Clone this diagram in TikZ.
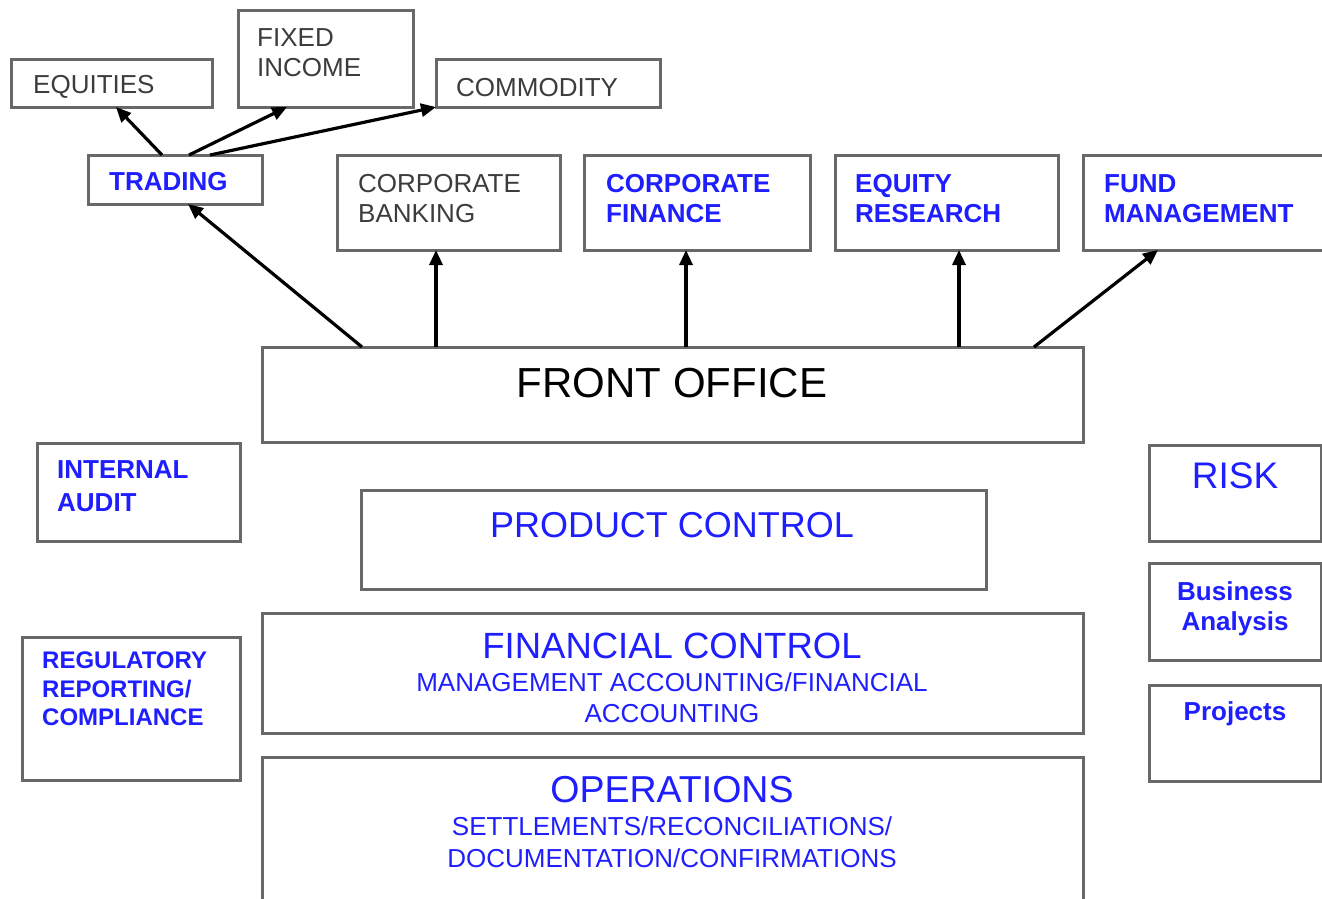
\documentclass[tikz,border=0pt]{standalone}
\usepackage{fontspec}
\setmainfont{Liberation Sans}
\usetikzlibrary{arrows.meta}
\definecolor{bordergray}{HTML}{686868}
\definecolor{txtblue}{HTML}{1E1EFF}
\definecolor{txtgray}{HTML}{3C3C3C}
\begin{document}
\begin{tikzpicture}[x=1pt,y=-1pt,
  box/.style={draw=bordergray, line width=3pt, fill=white, inner sep=0pt, outer sep=0pt, anchor=north west},
  lt/.style={anchor=base west, inner sep=0pt},
  ct/.style={anchor=base, inner sep=0pt},
  gtxt/.style={text=txtgray, font=\fontsize{26}{30}\selectfont},
  btxt/.style={text=txtblue, font=\fontsize{26}{30}\selectfont\bfseries},
  rtxt/.style={text=txtblue, font=\fontsize{26}{30}\selectfont},
  big/.style={text=txtblue, font=\fontsize{37}{40}\selectfont},
  arr/.style={-{Triangle[length=15pt,width=13pt]}, line width=3.2pt, black}
]
\path[use as bounding box, clip] (0,0) rectangle (1322,899);
\fill[white] (0,0) rectangle (1322,899);

% boxes
\node[box, minimum width=201pt, minimum height=47pt] (eq) at (11,60) {};
\node[box, minimum width=175pt, minimum height=96pt] (fi) at (238,11) {};
\node[box, minimum width=224pt, minimum height=47pt] (co) at (436,60) {};
\node[box, minimum width=174pt, minimum height=49pt] (tr) at (88,155) {};
\node[box, minimum width=223pt, minimum height=95pt] (cb) at (337,155) {};
\node[box, minimum width=226pt, minimum height=95pt] (cf) at (584,155) {};
\node[box, minimum width=223pt, minimum height=95pt] (er) at (835,155) {};
\node[box, minimum width=260pt, minimum height=95pt] (fm) at (1083,155) {};
\node[box, minimum width=821pt, minimum height=95pt] (fo) at (262,347) {};
\node[box, minimum width=203pt, minimum height=98pt] (ia) at (37,443) {};
\node[box, minimum width=625pt, minimum height=99pt] (pc) at (361,490) {};
\node[box, minimum width=172pt, minimum height=96pt] (risk) at (1149,445) {};
\node[box, minimum width=172pt, minimum height=97pt] (ba) at (1149,563) {};
\node[box, minimum width=172pt, minimum height=96pt] (pj) at (1149,685) {};
\node[box, minimum width=218pt, minimum height=143pt] (rr) at (22,637) {};
\node[box, minimum width=821pt, minimum height=120pt] (fc) at (262,613) {};
\node[box, minimum width=821pt, minimum height=160pt] (op) at (262,757) {};

% texts
\node[lt, gtxt] (eqt) at (33,93) {EQUITIES};
\node[lt, gtxt] (fit1) at (257,47) {FIXED};
\node[lt, gtxt] (fit2) at (257,77) {INCOME};
\node[lt, gtxt] (cot) at (456,96) {COMMODITY};
\node[lt, btxt] (trt) at (109,190) {TRADING};
\node[lt, gtxt] (cbt1) at (358,192) {CORPORATE};
\node[lt, gtxt] (cbt2) at (358,222) {BANKING};
\node[lt, btxt] (cft1) at (606,192) {CORPORATE};
\node[lt, btxt] (cft2) at (606,222) {FINANCE};
\node[lt, btxt] (ert1) at (855,192) {EQUITY};
\node[lt, btxt] (ert2) at (855,222) {RESEARCH};
\node[lt, btxt] (fmt1) at (1104,192) {FUND};
\node[lt, btxt] (fmt2) at (1104,222) {MANAGEMENT};
\node[ct, font=\fontsize{42}{46}\selectfont, text=black] (fot) at (672,397) {FRONT OFFICE};
\node[lt, btxt] (iat1) at (57,478) {INTERNAL};
\node[lt, btxt] (iat2) at (57,511) {AUDIT};
\node[ct, big, font=\fontsize{36}{40}\selectfont] (pct) at (672,537) {PRODUCT CONTROL};
\node[ct, big] (riskt) at (1235,488) {RISK};
\node[ct, btxt] (bat1) at (1235,600) {Business};
\node[ct, btxt] (bat2) at (1235,630) {Analysis};
\node[ct, btxt] (pjt) at (1235,720) {Projects};
\node[lt, btxt, font=\fontsize{24}{28}\selectfont\bfseries] (rrt1) at (42,668) {REGULATORY};
\node[lt, btxt, font=\fontsize{24}{28}\selectfont\bfseries] (rrt2) at (42,697) {REPORTING/};
\node[lt, btxt, font=\fontsize{24}{28}\selectfont\bfseries] (rrt3) at (42,725) {COMPLIANCE};
\node[ct, big, font=\fontsize{36.5}{40}\selectfont] (fct) at (672,658) {FINANCIAL CONTROL};
\node[ct, rtxt] (fcs1) at (672,691) {MANAGEMENT ACCOUNTING/FINANCIAL};
\node[ct, rtxt] (fcs2) at (672,722) {ACCOUNTING};
\node[ct, big, font=\fontsize{37.5}{40}\selectfont] (opt) at (672,802) {OPERATIONS};
\node[ct, rtxt] (ops1) at (672,835) {SETTLEMENTS/RECONCILIATIONS/};
\node[ct, rtxt] (ops2) at (672,867) {DOCUMENTATION/CONFIRMATIONS};

% arrows
\draw[arr] ([xshift=100pt]fo.north west) -- ([xshift=100pt]tr.south west);
\draw[arr] ([xshift=174pt]fo.north west) -- ([xshift=99pt]cb.south west);
\draw[arr] ([xshift=424pt]fo.north west) -- ([xshift=102pt]cf.south west);
\draw[arr] ([xshift=697pt]fo.north west) -- ([xshift=124pt]er.south west);
\draw[arr] ([xshift=772pt]fo.north west) -- ([xshift=75pt]fm.south west);
\draw[arr] ([xshift=74pt]tr.north west) -- ([xshift=105pt]eq.south west);
\draw[arr] ([xshift=101pt]tr.north west) -- ([xshift=49pt]fi.south west);
\draw[arr] ([xshift=122pt]tr.north west) -- (co.south west);
\end{tikzpicture}
\end{document}
